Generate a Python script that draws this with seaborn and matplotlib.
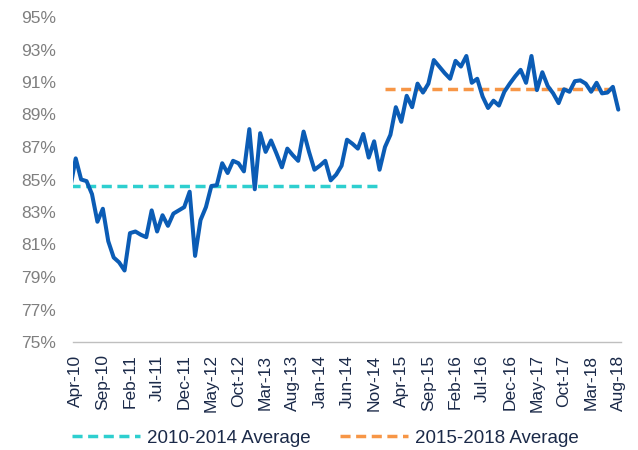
import numpy as np
import pandas as pd
import matplotlib
matplotlib.use("Agg")
import matplotlib.pyplot as plt
import seaborn as sns

# monthly values, Mar-10 .. Aug-18 (Mar-10 sits just outside the axis, clipped)
vals_2010 = [84.5, 86.3, 85.0, 84.9, 84.1, 82.4, 83.2, 81.2, 80.2, 79.9]
vals_2011 = [79.4, 81.7, 81.8, 81.6, 81.45, 83.1, 81.8, 82.8, 82.15, 82.9, 83.1, 83.3]
vals_2012 = [84.25, 80.3, 82.5, 83.3, 84.6, 84.65, 86.0, 85.4, 86.15, 86.0, 85.5, 88.1]
vals_2013 = [84.4, 87.85, 86.7, 87.4, 86.6, 85.75, 86.9, 86.5, 86.15, 87.95, 86.7, 85.6]
vals_2014 = [85.85, 86.15, 84.95, 85.3, 85.85, 87.45, 87.2, 86.9, 87.8, 86.35, 87.35, 85.6]
vals_2015 = [87.0, 87.75, 89.45, 88.55, 90.15, 89.45, 90.9, 90.35, 90.9, 92.35, 91.95, 91.55]
vals_2016 = [91.2, 92.3, 91.95, 92.6, 90.95, 91.2, 90.1, 89.4, 89.85, 89.55, 90.4, 90.9]
vals_2017 = [91.35, 91.75, 90.95, 92.6, 90.5, 91.6, 90.75, 90.3, 89.7, 90.55, 90.4, 91.05]
vals_2018 = [91.1, 90.9, 90.4, 90.95, 90.3, 90.35, 90.7, 89.3]

avg_2010_2014 = 84.6
avg_2015_2018 = 90.6

tick_labels = ["Apr-10", "Sep-10", "Feb-11", "Jul-11", "Dec-11", "May-12", "Oct-12",
               "Mar-13", "Aug-13", "Jan-14", "Jun-14", "Nov-14", "Apr-15", "Sep-15",
               "Feb-16", "Jul-16", "Dec-16", "May-17", "Oct-17", "Mar-18", "Aug-18"]

values = (vals_2010 + vals_2011 + vals_2012 + vals_2013 + vals_2014
          + vals_2015 + vals_2016 + vals_2017 + vals_2018)
months = pd.date_range("2010-03-01", "2018-08-01", freq="MS")
df = pd.DataFrame({"month": months, "value": values})
# month position, Apr-10 = 0
df["pos"] = np.arange(len(df)) - 1

early = df[df["month"].dt.year <= 2014].assign(value=avg_2010_2014)
late = df[df["month"].dt.year >= 2015].assign(value=avg_2015_2018)

sns.set_style("white")
plt.rcParams["font.family"] = ["Liberation Sans", "DejaVu Sans"]

fig = plt.figure(figsize=(6.38, 4.5), dpi=100)
ax = fig.add_axes([73 / 638, 1 - 342 / 450, 548 / 638, 325 / 450])

sns.lineplot(data=early, x="pos", y="value", ax=ax, color="#2ECFCF",
             linewidth=2.5, linestyle=(0, (2.9, 1.6)), label="2010-2014 Average")
sns.lineplot(data=late, x="pos", y="value", ax=ax, color="#F79646",
             linewidth=2.5, linestyle=(0, (2.9, 1.6)), label="2015-2018 Average")
sns.lineplot(data=df, x="pos", y="value", ax=ax, color="#0B5CB5",
             linewidth=2.9, legend=False)

ax.set_xlim(-0.5, 100.5)
ax.set_ylim(75, 95)
ax.set_yticks(np.arange(75, 96, 2))
ax.set_yticklabels([f"{v}%" for v in range(75, 96, 2)])
ax.set_xticks(np.arange(0, 101, 5))
ax.set_xticklabels(tick_labels, rotation=90)
ax.set_xlabel("")
ax.set_ylabel("")

ax.tick_params(axis="y", length=0, pad=12, labelsize=12.5, labelcolor="#7F7F7F")
ax.tick_params(axis="x", length=0, pad=9, labelsize=12.5, labelcolor="#1B2A49")
for side in ["top", "right", "left"]:
    ax.spines[side].set_visible(False)
ax.spines["bottom"].set_color("#BFBFBF")
ax.spines["bottom"].set_linewidth(1)
ax.grid(False)

handles, labels = ax.get_legend_handles_labels()
ax.get_legend().remove()
fig.legend(handles, labels, loc="center left", bbox_to_anchor=(0.087, 0.026),
           ncol=2, frameon=False, fontsize=13.5, handlelength=3.6,
           handletextpad=0.4, columnspacing=1.55, labelcolor="#1B2A49")

fig.savefig("out.png", dpi=100)
